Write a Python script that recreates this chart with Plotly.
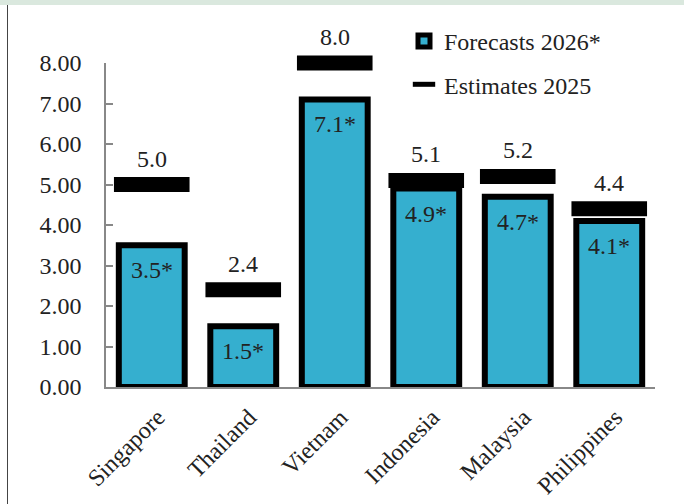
import plotly.graph_objects as go

countries = ["Singapore", "Thailand", "Vietnam", "Indonesia", "Malaysia", "Philippines"]
forecasts_2026 = [3.5, 1.5, 7.1, 4.9, 4.7, 4.1]
estimates_2025 = [5.0, 2.4, 8.0, 5.1, 5.2, 4.4]
y_ticks = [0, 1, 2, 3, 4, 5, 6, 7, 8]

FONT = "Liberation Serif"
FS = 24
TXT = "#222222"
BLUE = "#35afcf"

fig = go.Figure()
fig.add_trace(go.Bar(
    x=countries, y=forecasts_2026, name="Forecasts 2026*",
    marker=dict(color=BLUE, line=dict(color="black", width=6)),
    width=0.72, legendgroup="f", hoverinfo="skip",
))
fig.add_trace(go.Scatter(
    x=countries, y=estimates_2025, name="Estimates 2025", mode="markers",
    marker=dict(symbol="line-ew", size=54, color="black",
                line=dict(color="black", width=15)),
    cliponaxis=False, legendgroup="e", hoverinfo="skip",
))

for c, v in zip(countries, estimates_2025):
    fig.add_annotation(x=c, y=v, text=f"{v:.1f}", showarrow=False, yshift=26,
                       font=dict(family=FONT, size=FS, color=TXT))
for c, v in zip(countries, forecasts_2026):
    fig.add_annotation(x=c, y=v, text=f"{v:.1f}*", showarrow=False, yshift=-25,
                       font=dict(family=FONT, size=FS, color=TXT))

L, R, T, B = 106, 29, 63, 117
W, H = 684, 504
pw, ph = W - L - R, H - T - B

def px(x):
    return (x - L) / pw

def py(y):
    return (H - B - y) / ph

fig.add_shape(type="rect", xref="paper", yref="paper", x0=px(0), x1=px(W),
              y0=py(5), y1=py(0), fillcolor="#dae8de", line=dict(width=0), layer="below")
fig.add_shape(type="line", xref="paper", yref="paper", x0=px(7.5), x1=px(7.5),
              y0=py(5), y1=py(H), line=dict(color="#444444", width=1))

fig.update_layout(
    width=W, height=H,
    margin=dict(l=L, r=R, t=T, b=B, autoexpand=False),
    paper_bgcolor="white", plot_bgcolor="white",
    font=dict(family=FONT, size=FS, color=TXT),
    showlegend=True,
    legend=dict(x=px(404), y=py(19), xanchor="left", yanchor="top",
                traceorder="grouped", tracegroupgap=9,
                bgcolor="rgba(0,0,0,0)", font=dict(family=FONT, size=FS, color=TXT)),
)
fig.update_xaxes(range=[-0.5, 5.5], showline=True, linecolor="#888888", linewidth=1.5,
                 ticks="", tickangle=-45, showgrid=False, zeroline=False, automargin=False,
                 tickfont=dict(family=FONT, size=FS, color=TXT), ticklabelstandoff=5,
                 ticklabelshift=6)
fig.update_yaxes(range=[0, 8], tickvals=y_ticks, tickformat=".2f", showline=True,
                 linecolor="#888888", linewidth=1.5, ticks="inside", ticklen=7,
                 tickcolor="#888888", tickwidth=1.5, showgrid=False, zeroline=False,
                 automargin=False,
                 tickfont=dict(family=FONT, size=FS, color=TXT), ticklabelstandoff=18)

fig.write_html("out.html")
